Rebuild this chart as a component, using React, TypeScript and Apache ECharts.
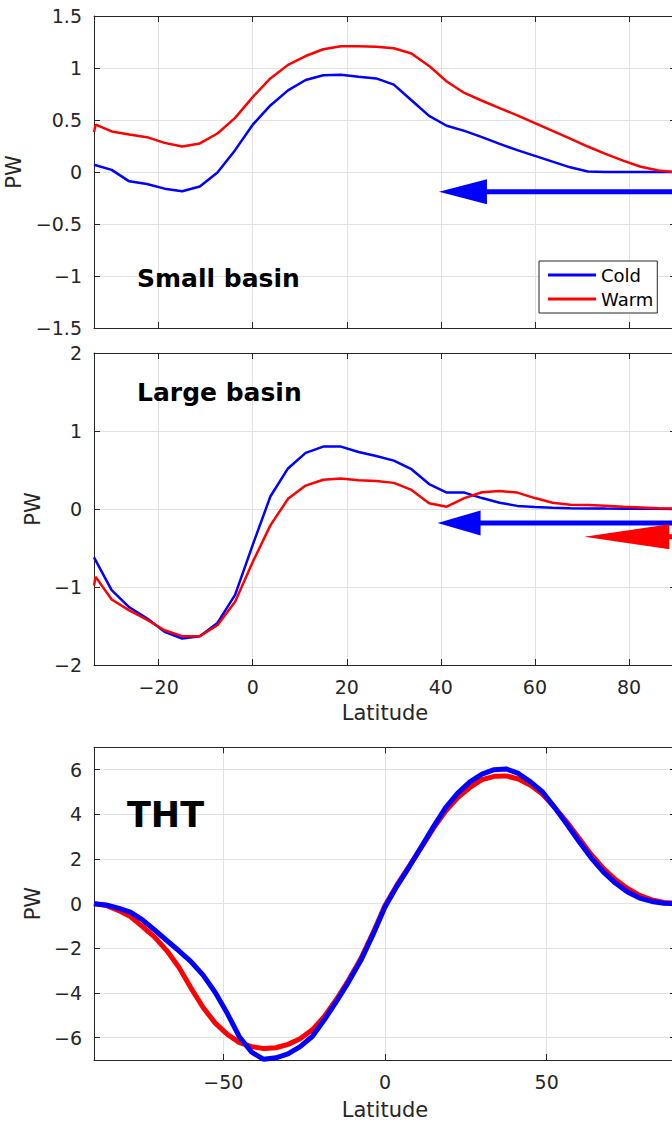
import React, { useEffect, useRef } from "react";
import * as echarts from "echarts";

// ---------- data ----------
const latBasin = [-33.75, -30, -26.25, -22.5, -18.75, -15, -11.25, -7.5, -3.75, 0, 3.75, 7.5, 11.25, 15, 18.75, 22.5, 26.25, 30, 33.75, 37.5, 41.25, 45, 48.75, 52.5, 56.25, 60, 63.75, 67.5, 71.25, 75, 78.75, 82.5, 86.25, 90];
const latBasinWarm = [-33.75, -33.4, -30, -26.25, -22.5, -18.75, -15, -11.25, -7.5, -3.75, 0, 3.75, 7.5, 11.25, 15, 18.75, 22.5, 26.25, 30, 33.75, 37.5, 41.25, 45, 48.75, 52.5, 56.25, 60, 63.75, 67.5, 71.25, 75, 78.75, 82.5, 86.25, 90];

const smallCold = [0.07, 0.02, -0.09, -0.115, -0.16, -0.185, -0.14, -0.005, 0.21, 0.455, 0.64, 0.785, 0.885, 0.93, 0.935, 0.915, 0.9, 0.84, 0.69, 0.54, 0.445, 0.395, 0.335, 0.27, 0.21, 0.155, 0.1, 0.045, 0.005, 0, 0, 0, 0, 0];
const smallWarm = [0.385, 0.455, 0.39, 0.36, 0.335, 0.28, 0.245, 0.275, 0.37, 0.52, 0.72, 0.9, 1.03, 1.115, 1.18, 1.21, 1.21, 1.205, 1.19, 1.14, 1.02, 0.87, 0.76, 0.685, 0.615, 0.545, 0.47, 0.395, 0.32, 0.245, 0.175, 0.11, 0.05, 0.015, 0];

const largeCold = [-0.62, -1.04, -1.26, -1.4, -1.575, -1.66, -1.63, -1.46, -1.1, -0.46, 0.16, 0.52, 0.72, 0.8, 0.8, 0.73, 0.68, 0.62, 0.51, 0.32, 0.21, 0.21, 0.14, 0.08, 0.04, 0.025, 0.015, 0.01, 0.008, 0.005, 0.004, 0.003, 0.002, 0];
const largeWarm = [-0.98, -0.87, -1.16, -1.3, -1.42, -1.555, -1.63, -1.63, -1.49, -1.19, -0.68, -0.21, 0.13, 0.3, 0.375, 0.39, 0.37, 0.36, 0.335, 0.245, 0.075, 0.03, 0.14, 0.215, 0.23, 0.21, 0.14, 0.08, 0.055, 0.05, 0.042, 0.03, 0.02, 0.01, 0.005];

const latGlobal = [-90, -86.25, -82.5, -78.75, -75, -71.25, -67.5, -63.75, -60, -56.25, -52.5, -48.75, -45, -41.25, -37.5, -33.75, -30, -26.25, -22.5, -18.75, -15, -11.25, -7.5, -3.75, 0, 3.75, 7.5, 11.25, 15, 18.75, 22.5, 26.25, 30, 33.75, 37.5, 41.25, 45, 48.75, 52.5, 56.25, 60, 63.75, 67.5, 71.25, 75, 78.75, 82.5, 86.25, 90];
const thtCold = [0, -0.06, -0.2, -0.38, -0.73, -1.18, -1.65, -2.11, -2.6, -3.2, -3.98, -4.92, -5.97, -6.65, -6.97, -6.9, -6.73, -6.4, -5.95, -5.2, -4.38, -3.5, -2.55, -1.4, -0.15, 0.8, 1.65, 2.55, 3.45, 4.3, 4.95, 5.45, 5.8, 6.0, 6.03, 5.83, 5.45, 5.0, 4.3, 3.55, 2.78, 2.05, 1.42, 0.92, 0.52, 0.25, 0.1, 0.02, 0];
const thtWarm = [0, -0.08, -0.3, -0.58, -1.03, -1.5, -2.1, -2.85, -3.78, -4.65, -5.35, -5.85, -6.22, -6.4, -6.49, -6.45, -6.3, -6.05, -5.65, -5.05, -4.28, -3.42, -2.47, -1.32, -0.08, 0.85, 1.68, 2.52, 3.38, 4.15, 4.75, 5.2, 5.55, 5.7, 5.72, 5.58, 5.3, 4.9, 4.3, 3.65, 2.93, 2.2, 1.58, 1.08, 0.68, 0.37, 0.17, 0.05, 0.02];

const basinXTicks = [-20, 0, 20, 40, 60, 80];
const globalXTicks = [-50, 0, 50];
const thtYTicks = [-6, -4, -2, 0, 2, 4, 6];
const legendNames = ["Cold", "Warm"];
const panelTitles = ["Small basin", "Large basin", "THT"];
const xName = "Latitude";
const yName = "PW";

// arrows: [tip latitude, PW value, tail latitude]
const smallArrowCold = [39.6, -0.19, 100];
const largeArrowCold = [39.3, -0.18, 100];
const largeArrowWarm = [70.5, -0.355, 100];

// ---------- styles ----------
const BLUE = "#0000ff";
const RED = "#ff0000";
const INK = "#262626";
const GRIDC = "#e2e2e2";
const FONT = "DejaVu Sans";

const pairs = (xs: number[], ys: number[]) => xs.map((x, i) => [x, ys[i]]);
const minus = (v: number) => (v < 0 ? "\u2212" + String(-v) : String(v));

const axisLine = { show: true, onZero: false, lineStyle: { color: INK, width: 1 } };
const tickBase = { show: true, inside: true, length: 6, lineStyle: { color: INK, width: 1 } };
const labelBase = { color: INK, fontSize: 19, fontFamily: FONT, margin: 12, formatter: minus };
const nameStyle = { color: INK, fontSize: 21, fontFamily: FONT };

function xAxes(gridIndex: number, min: number, max: number, ticks: number[], showLabels: boolean, nameGap: number) {
  const common: any = {
    type: "value", gridIndex, min, max, axisLine,
    axisTick: { ...tickBase, customValues: ticks },
  };
  return [
    {
      ...common, position: "bottom",
      axisLabel: { ...labelBase, show: showLabels, customValues: ticks },
      splitLine: { show: true, lineStyle: { color: GRIDC, width: 1 } },
      name: showLabels ? xName : "", nameLocation: "middle", nameGap, nameTextStyle: nameStyle,
    },
    { ...common, position: "top", axisLabel: { show: false }, splitLine: { show: false } },
  ];
}

function yAxes(gridIndex: number, min: number, max: number, interval: number | null, ticks: number[] | null, nameGap: number) {
  const common: any = { type: "value", gridIndex, min, max, axisLine };
  if (interval !== null) common.interval = interval;
  const tick: any = { ...tickBase };
  const label: any = { ...labelBase };
  if (ticks) { tick.customValues = ticks; label.customValues = ticks; }
  return [
    {
      ...common, position: "left", axisTick: tick, axisLabel: label,
      splitLine: { show: true, lineStyle: { color: GRIDC, width: 1 } },
      name: yName, nameLocation: "middle", nameGap, nameTextStyle: nameStyle,
    },
    { ...common, position: "right", axisTick: tick, axisLabel: { show: false }, splitLine: { show: false } },
  ];
}

function lineSeries(name: string, axisIdx: number, data: number[][], color: string, width: number, z: number) {
  return {
    type: "line", name, xAxisIndex: axisIdx, yAxisIndex: axisIdx, data,
    showSymbol: false, symbol: "none", z,
    lineStyle: { color, width }, itemStyle: { color },
    emphasis: { disabled: true }, silent: true,
  };
}

function arrowSeries(axisIdx: number, arrow: number[], color: string, headLen: number, headHalf: number) {
  return {
    type: "custom", xAxisIndex: axisIdx, yAxisIndex: axisIdx, z: 10, silent: true,
    data: [arrow], encode: { x: [0, 2], y: 1 },
    renderItem: (_p: any, api: any) => {
      const tip = api.coord([api.value(0), api.value(1)]);
      const tail = api.coord([api.value(2), api.value(1)]);
      return {
        type: "group",
        children: [
          { type: "line", shape: { x1: tip[0] + headLen - 1, y1: tip[1], x2: tail[0], y2: tail[1] }, style: { stroke: color, lineWidth: 5 } },
          { type: "polygon", shape: { points: [[tip[0], tip[1]], [tip[0] + headLen, tip[1] - headHalf], [tip[0] + headLen, tip[1] + headHalf]] }, style: { fill: color } },
        ],
      };
    },
  };
}

export default function App() {
  const ref = useRef<HTMLDivElement>(null);
  useEffect(() => {
    if (!ref.current) return;
    const chart = echarts.init(ref.current, null, { renderer: "svg" });
    const gridCommon = { left: 94, width: 582, outerBoundsMode: "none", containLabel: false, show: false };
    const option: any = {
      animation: false,
      backgroundColor: "#ffffff",
      grid: [
        { ...gridCommon, top: 16, height: 312 },
        { ...gridCommon, top: 353, height: 312 },
        { ...gridCommon, top: 747.3, height: 312.7 },
      ],
      xAxis: [
        ...xAxes(0, -33.75, 90, basinXTicks, false, 38),
        ...xAxes(1, -33.75, 90, basinXTicks, true, 37),
        ...xAxes(2, -90, 90, globalXTicks, true, 39),
      ],
      yAxis: [
        ...yAxes(0, -1.5, 1.5, 0.5, null, 60),
        ...yAxes(1, -2, 2, 1, null, 38),
        ...yAxes(2, -7, 7, null, thtYTicks, 38),
      ],
      legend: {
        data: legendNames,
        orient: "vertical",
        left: 539, top: 261,
        padding: [5, 4, 5, 9],
        itemGap: 6,
        itemWidth: 48, itemHeight: 3,
        icon: "rect",
        borderColor: INK, borderWidth: 1, borderRadius: 0,
        backgroundColor: "#ffffff",
        textStyle: { fontSize: 18, fontFamily: FONT, color: "#000000" },
        selectedMode: false,
      },
      graphic: [
        { type: "text", x: 137, y: 278, z: 20, style: { text: panelTitles[0], fontSize: 25, fontWeight: "bold", fontFamily: FONT, fill: "#000", verticalAlign: "middle" } },
        { type: "text", x: 137, y: 392.5, z: 20, style: { text: panelTitles[1], fontSize: 25, fontWeight: "bold", fontFamily: FONT, fill: "#000", verticalAlign: "middle" } },
        { type: "text", x: 127, y: 815, z: 20, style: { text: panelTitles[2], fontSize: 35, fontWeight: "bold", fontFamily: FONT, fill: "#000", verticalAlign: "middle" } },
      ],
      series: [
        lineSeries(legendNames[0], 0, pairs(latBasin, smallCold), BLUE, 2.5, 2),
        lineSeries(legendNames[1], 0, pairs(latBasinWarm, smallWarm), RED, 2.5, 3),
        lineSeries(legendNames[0], 2, pairs(latBasin, largeCold), BLUE, 2.5, 2),
        lineSeries(legendNames[1], 2, pairs(latBasinWarm, largeWarm), RED, 2.5, 3),
        lineSeries(legendNames[1], 4, pairs(latGlobal, thtWarm), RED, 5, 2),
        lineSeries(legendNames[0], 4, pairs(latGlobal, thtCold), BLUE, 5, 3),
        arrowSeries(0, smallArrowCold, BLUE, 48, 12.5),
        arrowSeries(2, largeArrowCold, BLUE, 43, 12.5),
        arrowSeries(2, largeArrowWarm, RED, 85, 12.5),
      ],
    };
    chart.setOption(option);
    return () => chart.dispose();
  }, []);
  return (
    <div style={{ position: "absolute", left: 0, top: 0, width: 672, height: 1123, overflow: "hidden", background: "#fff" }}>
      <div ref={ref} style={{ width: 672, height: 1123 }} />
    </div>
  );
}
